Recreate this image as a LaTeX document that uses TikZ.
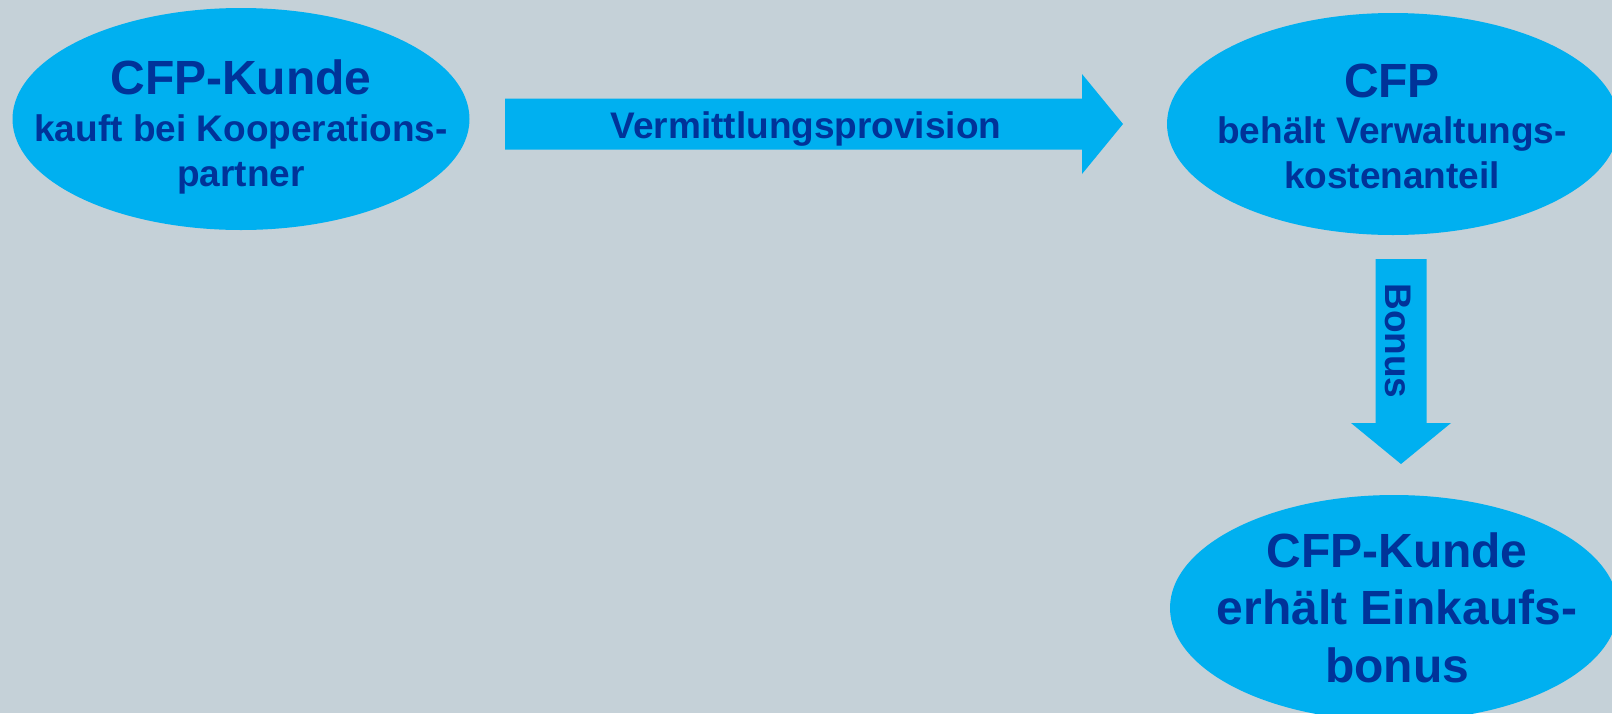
\documentclass[tikz,border=0pt]{standalone}
\usepackage{fontspec}
\setmainfont{Liberation Sans}
\usetikzlibrary{shapes.geometric}
\definecolor{bg}{RGB}{197,209,216}
\definecolor{cyanfill}{RGB}{0,176,240}
\definecolor{navy}{RGB}{0,51,153}
\begin{document}
\begin{tikzpicture}[x=1pt,y=-1pt,
  bubble/.style={ellipse, fill=cyanfill, draw=none, inner sep=0pt},
  txt/.style={text=navy, font=\bfseries\fontsize{37}{45}\selectfont, align=center, inner sep=0pt},
  bigtxt/.style={text=navy, font=\bfseries\fontsize{48}{57.5}\selectfont, align=center, inner sep=0pt},
  blockarrow/.style={fill=cyanfill, draw=none}
]
\fill[bg] (0,0) rectangle (1612,713);
\useasboundingbox (0,0) rectangle (1612,713);

% ellipses
\node[bubble, minimum width=457, minimum height=222] (kunde) at (241,119) {};
\node[bubble, minimum width=452, minimum height=222] (cfp) at (1393,124) {};
\node[bubble, minimum width=448, minimum height=226] (bonusKunde) at (1394,608) {};

% texts
\node[txt] (kundeText) at (241,127) {{\fontsize{48}{45}\selectfont CFP-Kunde}\\[1.5pt]kauft bei Kooperations-\\partner};
\node[txt] (cfpText) at (1392,126) {{\fontsize{48}{45}\selectfont CFP}\\[1pt]behält Verwaltungs-\\kostenanteil};
\node[bigtxt] (bonusKundeText) at (1397,607.5) {CFP-Kunde\\erhält Einkaufs-\\bonus};

% horizontal block arrow
\fill[blockarrow] (505,98.5) -- (1082,98.5) -- (1082,74) -- (1123,124) -- (1082,174) -- (1082,149.5) -- (505,149.5) -- cycle;
\node[txt, anchor=base] (provText) at (806,138) {Vermittlungsprovision};

% vertical block arrow
\fill[blockarrow] (1375.5,259) -- (1426.5,259) -- (1426.5,423) -- (1451,423) -- (1401,464) -- (1351,423) -- (1375.5,423) -- cycle;
\node[txt, rotate=-90] (bonusText) at (1398,341) {Bonus};
\end{tikzpicture}
\end{document}
